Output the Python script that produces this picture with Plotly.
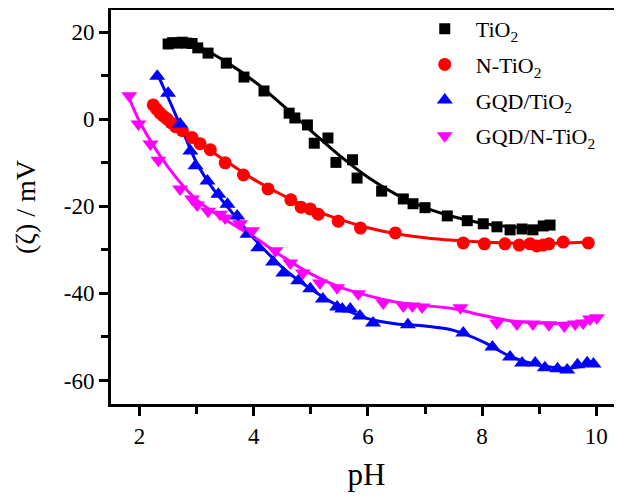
import plotly.graph_objects as go

# ---- data ----
tio2_ph = [2.50, 2.58, 2.66, 2.75, 2.83, 2.92, 3.02, 3.20, 3.52, 3.83, 4.18, 4.62, 4.72, 4.94, 5.06, 5.30,
           5.44, 5.73, 5.81, 6.24, 6.62, 6.79, 7.00, 7.39, 7.74, 8.02, 8.26, 8.49, 8.70, 8.89, 9.07, 9.19]
tio2_zeta = [17.3, 17.6, 17.5, 17.7, 17.5, 17.4, 16.4, 15.2, 12.9, 9.7, 6.5, 1.4, 0.3, -1.3, -5.5, -4.3,
             -9.9, -9.3, -13.5, -16.5, -18.3, -19.4, -20.3, -22.2, -23.3, -24.0, -24.7, -25.4, -25.2, -25.4, -24.5, -24.3]
tio2_fit_ph = [2.5, 3.0, 3.5, 4.0, 4.5, 5.0, 5.5, 6.0, 6.5, 7.0, 7.5, 8.0, 8.5, 9.0, 9.2]
tio2_fit_zeta = [17.8, 16.8, 13.3, 8.8, 3.3, -2.6, -8.3, -13.3, -17.3, -20.3, -22.4, -23.9, -24.7, -25.0, -24.8]

ntio2_ph = [2.24, 2.30, 2.36, 2.42, 2.48, 2.55, 2.63, 2.75, 2.92, 3.06, 3.24, 3.50, 3.82, 4.25, 4.65, 4.83,
            4.99, 5.13, 5.48, 5.87, 6.48, 7.67, 8.04, 8.40, 8.65, 8.84, 8.96, 9.07, 9.17, 9.42, 9.86]
ntio2_zeta = [3.3, 2.3, 1.4, 0.7, 0.1, -0.8, -1.7, -2.6, -4.2, -5.6, -7.0, -10.0, -12.8, -16.0, -18.5, -20.2,
              -20.6, -21.8, -23.4, -25.0, -26.1, -28.4, -28.6, -28.6, -28.9, -28.6, -29.1, -28.9, -28.6, -28.2, -28.4]
ntio2_fit_ph = [2.2, 2.5, 3.0, 3.5, 4.0, 4.5, 5.0, 5.5, 6.0, 6.5, 7.0, 7.5, 8.0, 8.5, 9.0, 9.5, 9.9]
ntio2_fit_zeta = [4.0, 0.3, -5.0, -9.5, -13.8, -17.4, -20.5, -23.0, -24.9, -26.3, -27.2, -27.8, -28.2, -28.4, -28.5, -28.4, -28.2]

gqd_ph = [2.31, 2.50, 2.71, 2.89, 2.98, 3.19, 3.38, 3.54, 3.71, 3.89, 4.08, 4.34, 4.52, 4.78, 4.99, 5.21,
          5.46, 5.55, 5.69, 5.86, 6.09, 6.70, 7.67, 8.18, 8.49, 8.70, 8.93, 9.10, 9.32, 9.49, 9.67, 9.84, 9.95]
gqd_zeta = [9.9, 6.0, -1.1, -7.3, -10.7, -14.2, -17.2, -19.5, -22.2, -26.4, -29.5, -32.8, -35.3, -37.1, -38.9, -41.3,
            -43.1, -43.6, -43.6, -45.2, -46.8, -47.2, -49.1, -52.3, -54.6, -56.0, -56.0, -57.1, -57.3, -57.6, -56.4, -55.9, -56.2]
gqd_fit_ph = [2.3, 2.5, 2.75, 3.0, 3.25, 3.5, 3.75, 4.0, 4.5, 5.0, 5.5, 6.0, 6.5, 7.0, 7.5, 8.0, 8.5, 9.0, 9.5, 10.0]
gqd_fit_zeta = [10.8, 5.0, -2.5, -10.0, -15.3, -19.5, -23.5, -27.3, -34.0, -39.0, -43.0, -45.8, -47.0, -47.5, -48.5,
                -51.0, -54.5, -56.5, -57.2, -56.0]

gqdn_ph = [1.82, 1.98, 2.19, 2.33, 2.71, 2.92, 3.01, 3.20, 3.41, 3.50, 3.76, 3.97, 4.38, 4.64, 4.86, 5.16,
           5.46, 5.83, 6.27, 6.62, 6.78, 6.95, 7.62, 8.26, 8.61, 8.89, 9.17, 9.44, 9.63, 9.77, 9.89, 10.01]
gqdn_zeta = [5.4, -1.1, -5.7, -9.4, -16.0, -18.3, -19.7, -21.1, -21.8, -22.7, -24.0, -25.6, -30.2, -33.0, -35.3, -37.6,
             -38.7, -40.1, -42.2, -42.9, -42.9, -43.1, -43.3, -46.8, -47.0, -47.0, -47.2, -47.5, -47.0, -46.8, -45.9, -45.6]
gqdn_fit_ph = [1.8, 2.0, 2.5, 3.0, 3.5, 4.0, 4.5, 5.0, 5.5, 6.0, 6.5, 7.0, 7.5, 8.0, 8.5, 9.0, 9.5, 10.0]
gqdn_fit_zeta = [5.5, -0.5, -11.0, -18.5, -23.0, -27.0, -31.5, -35.5, -38.5, -40.5, -42.0, -42.8, -43.5, -45.0, -46.3, -46.8, -46.8, -45.8]

x_ticks = [2, 4, 6, 8, 10]
x_ticklabels = ["2", "4", "6", "8", "10"]
y_ticks = [20, 0, -20, -40, -60]
y_ticklabels = ["20", "0", "-20", "-40", "-60"]

series = [
    ("TiO<sub>2</sub>", tio2_ph, tio2_zeta, tio2_fit_ph, tio2_fit_zeta, "#000000", "square", 11),
    ("N-TiO<sub>2</sub>", ntio2_ph, ntio2_zeta, ntio2_fit_ph, ntio2_fit_zeta, "#ff0000", "circle", 13),
    ("GQD/TiO<sub>2</sub>", gqd_ph, gqd_zeta, gqd_fit_ph, gqd_fit_zeta, "#0000ff", "triangle-up", 14),
    ("GQD/N-TiO<sub>2</sub>", gqdn_ph, gqdn_zeta, gqdn_fit_ph, gqdn_fit_zeta, "#ff00ff", "triangle-down", 14),
]

fig = go.Figure()
for name, px_, py_, fx, fy, col, sym, sz in series:
    fig.add_trace(go.Scatter(x=fx, y=fy, mode="lines", line=dict(color=col, width=3, shape="spline"),
                             showlegend=False, hoverinfo="skip"))
for name, px_, py_, fx, fy, col, sym, sz in series:
    fig.add_trace(go.Scatter(x=px_, y=py_, mode="markers", name="\u00a0\u00a0" + name, legendgroup=name,
                             marker=dict(color=col, symbol=sym, size=sz, line=dict(width=0))))

serif = "Times New Roman, Liberation Serif, serif"
tick_font = dict(family=serif, size=23, color="black")
fig.update_layout(
    width=614, height=492,
    margin=dict(l=103, r=0, t=2, b=96, autoexpand=False),
    plot_bgcolor="white", paper_bgcolor="white",
    font=dict(family=serif, size=22, color="black"),
    xaxis=dict(range=[1.5, 10.45], tickmode="array", tickvals=x_ticks, ticktext=x_ticklabels,
               showline=True, linecolor="black", linewidth=3, mirror=True,
               ticks="outside", tickwidth=3, ticklen=9, tickcolor="black",
               showgrid=False, zeroline=False, automargin=False, tickfont=tick_font,
               minor=dict(dtick=1, tick0=1, ticks="outside", ticklen=7, tickwidth=3, tickcolor="black", showgrid=False),
               title=dict(text="pH", font=dict(family=serif, size=31, color="black"), standoff=16)),
    yaxis=dict(range=[-65.4, 25.1], tickmode="array", tickvals=y_ticks, ticktext=y_ticklabels,
               showline=True, linecolor="black", linewidth=3, mirror=False,
               ticks="outside", tickwidth=3, ticklen=9, tickcolor="black",
               showgrid=False, zeroline=False, automargin=False, tickfont=tick_font,
               minor=dict(dtick=10, tick0=0, ticks="outside", ticklen=7, tickwidth=3, tickcolor="black", showgrid=False),
               title=dict(text="(ζ) / mV", font=dict(family=serif, size=28, color="black"), standoff=20)),
    legend=dict(x=0.614, y=1.005, xanchor="left", yanchor="top", bgcolor="rgba(0,0,0,0)",
                font=dict(family=serif, size=22, color="black"), itemwidth=30,
                traceorder="grouped", tracegroupgap=4),
)

fig.write_html("out.html")
